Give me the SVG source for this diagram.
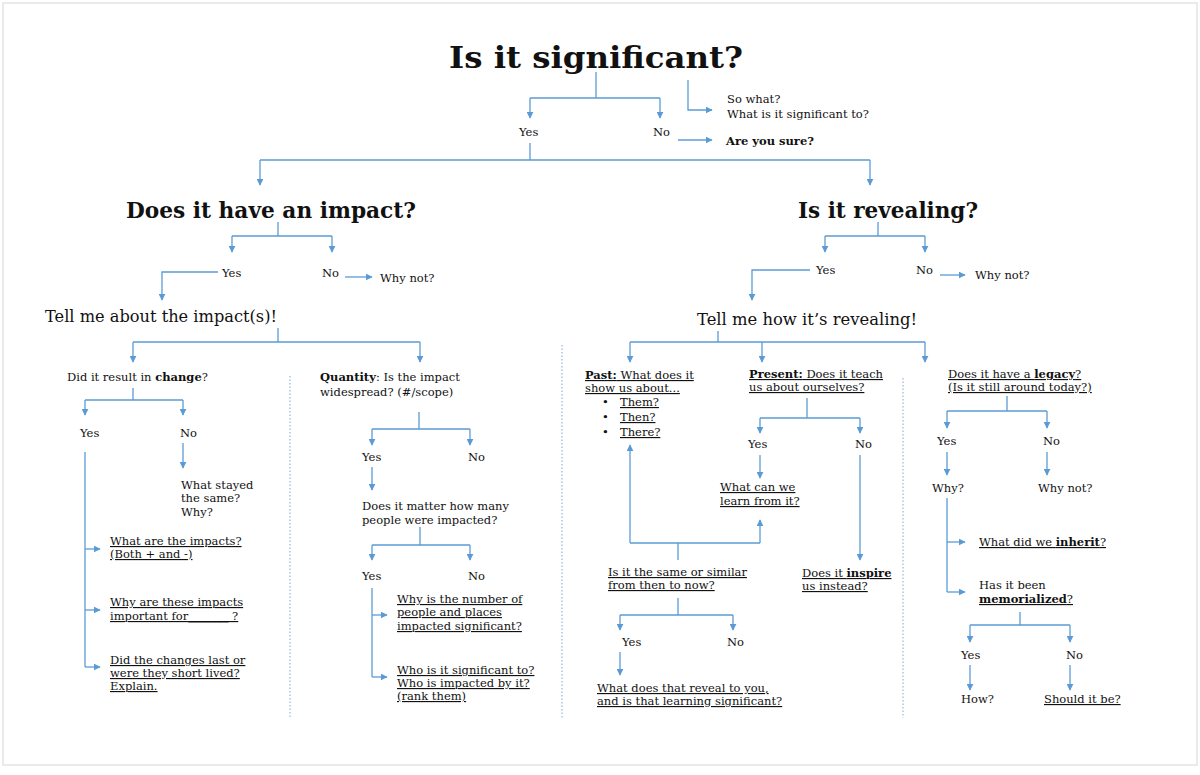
<svg xmlns="http://www.w3.org/2000/svg" width="1200" height="775" viewBox="0 0 1200 775">
<defs>
<marker id="ah" viewBox="0 0 10 10" refX="9" refY="5" markerWidth="7" markerHeight="7" markerUnits="userSpaceOnUse" orient="auto"><path d="M0,0 L10,5 L0,10 z" fill="#5b9bd5"/></marker>
<style>
text{font-family:"DejaVu Serif","Liberation Serif",serif;font-size:11.5px;fill:#111}
.t1{font-size:30px;font-weight:bold}
.t2{font-size:22px;font-weight:bold}
.t3{font-size:16px}
.b{font-weight:bold}
.u{text-decoration:underline}
.c path{fill:none;stroke:#5b9bd5;stroke-width:1.3}
.c .a{marker-end:url(#ah)}
.c .d{stroke:#9bbde0;stroke-dasharray:1.5 2}
</style>
</defs>
<rect x="0" y="0" width="1200" height="775" fill="#fff"/>
<rect x="3" y="3" width="1194" height="762" fill="none" stroke="#e4e4e4" stroke-width="1.5"/>
<g class="c" id="connectors">
<path d="M596,72 V98 M530,98 H660"/>
<path class="a" d="M530,98 V118"/><path class="a" d="M660,98 V118"/>
<path class="a" d="M688,80 V110 H712"/>
<path class="a" d="M678,140 H712"/>
<path d="M530,143 V160 M260,160 H870"/>
<path class="a" d="M260,160 V185"/><path class="a" d="M870,160 V185"/>
<path d="M278,222 V236 M232,236 H332"/>
<path class="a" d="M232,236 V252"/><path class="a" d="M332,236 V252"/>
<path class="a" d="M345,277 H372"/>
<path class="a" d="M218,272 H162 V300"/>
<path d="M278,328 V342 M133,342 H420"/>
<path class="a" d="M133,342 V362"/><path class="a" d="M420,342 V362"/>
<path d="M133,388 V400 M85,400 H183"/>
<path class="a" d="M85,400 V415"/><path class="a" d="M183,400 V415"/>
<path class="a" d="M183,443 V468"/>
<path d="M85,452 V667"/>
<path class="a" d="M85,549 H100"/><path class="a" d="M85,610 H100"/><path class="a" d="M85,667 H100"/>
<path class="d" d="M290,376 V718"/>
<path d="M419,412 V429 M372,429 H470"/>
<path class="a" d="M372,429 V445"/><path class="a" d="M470,429 V445"/>
<path class="a" d="M372,467 V490"/>
<path d="M420,527 V545 M372,545 H470"/>
<path class="a" d="M372,545 V560"/><path class="a" d="M470,545 V560"/>
<path d="M372,588 V677"/>
<path class="a" d="M372,615 H387"/><path class="a" d="M372,677 H387"/>
<path d="M878,222 V236 M825,236 H925"/>
<path class="a" d="M825,236 V252"/><path class="a" d="M925,236 V252"/>
<path class="a" d="M940,275 H965"/>
<path class="a" d="M810,270 H752 V300"/>
<path d="M718,331 V342 M630,342 H925"/>
<path class="a" d="M630,342 V362"/><path class="a" d="M762,342 V362"/><path class="a" d="M925,342 V362"/>
<path class="d" d="M562,345 V718"/>
<path class="d" d="M903,378 V718"/>
<path d="M807,398 V418 M760,418 H860"/>
<path class="a" d="M760,418 V433"/><path class="a" d="M860,418 V433"/>
<path class="a" d="M760,455 V478"/>
<path class="a" d="M860,455 V560"/>
<path d="M678,560 V543 M630,543 H760"/>
<path class="a" d="M630,543 V445"/><path class="a" d="M760,543 V520"/>
<path d="M678,598 V615 M620,615 H733"/>
<path class="a" d="M620,615 V630"/><path class="a" d="M733,615 V630"/>
<path class="a" d="M620,652 V675"/>
<path d="M1007,396 V411 M947,411 H1047"/>
<path class="a" d="M947,411 V428"/><path class="a" d="M1047,411 V428"/>
<path class="a" d="M947,452 V475"/><path class="a" d="M1047,452 V475"/>
<path d="M947,498 V592"/>
<path class="a" d="M947,542 H965"/><path class="a" d="M947,592 H965"/>
<path d="M1020,612 V625 M970,625 H1070"/>
<path class="a" d="M970,625 V642"/><path class="a" d="M1070,625 V642"/>
<path class="a" d="M970,665 V690"/><path class="a" d="M1070,665 V690"/>
</g>
<g id="n-title"><text class="t1" x="449" y="68" textLength="294" lengthAdjust="spacingAndGlyphs">Is it significant?</text></g>
<g id="n-yes0"><text x="519" y="136">Yes</text></g>
<g id="n-no0"><text x="653" y="136">No</text></g>
<g id="n-sowhat"><text x="727" y="103">So what?</text><text x="727" y="118">What is it significant to?</text></g>
<g id="n-sure"><text class="b" x="726" y="145">Are you sure?</text></g>
<g id="n-impact"><text class="t2" x="126" y="218" textLength="290" lengthAdjust="spacingAndGlyphs">Does it have an impact?</text></g>
<g id="n-reveal"><text class="t2" x="798" y="218" textLength="180" lengthAdjust="spacingAndGlyphs">Is it revealing?</text></g>
<g id="n-yes1"><text x="222" y="277">Yes</text></g>
<g id="n-no1"><text x="322" y="277">No</text></g>
<g id="n-whynot1"><text x="380" y="282">Why not?</text></g>
<g id="n-yes2"><text x="816" y="274">Yes</text></g>
<g id="n-no2"><text x="916" y="274">No</text></g>
<g id="n-whynot2"><text x="975" y="279">Why not?</text></g>
<g id="n-tellimpact"><text class="t3" x="45" y="322" textLength="232" lengthAdjust="spacingAndGlyphs">Tell me about the impact(s)!</text></g>
<g id="n-tellreveal"><text class="t3" x="697" y="325" textLength="220" lengthAdjust="spacingAndGlyphs">Tell me how it’s revealing!</text></g>
<g id="n-change"><text x="67" y="381">Did it result in <tspan class="b">change</tspan>?</text></g>
<g id="n-cyes"><text x="80" y="437">Yes</text></g>
<g id="n-cno"><text x="180" y="437">No</text></g>
<g id="n-stayed"><text x="181" y="489">What stayed</text><text x="181" y="502">the same?</text><text x="181" y="516">Why?</text></g>
<g id="n-what"><text class="u" x="110" y="545">What are the impacts?</text><text class="u" x="110" y="558">(Both + and -)</text></g>
<g id="n-whyimp"><text class="u" x="110" y="606">Why are these impacts</text><text class="u" x="110" y="620">important for_______ ?</text></g>
<g id="n-last"><text class="u" x="110" y="664">Did the changes last or</text><text class="u" x="110" y="677">were they short lived?</text><text class="u" x="110" y="690">Explain.</text></g>
<g id="n-quantity"><text x="320" y="381"><tspan class="b">Quantity</tspan>: Is the impact</text><text x="320" y="396">widespread? (#/scope)</text></g>
<g id="n-qyes"><text x="362" y="461">Yes</text></g>
<g id="n-qno"><text x="468" y="461">No</text></g>
<g id="n-matter"><text x="362" y="510">Does it matter how many</text><text x="362" y="524">people were impacted?</text></g>
<g id="n-myes"><text x="362" y="580">Yes</text></g>
<g id="n-mno"><text x="468" y="580">No</text></g>
<g id="n-number"><text class="u" x="397" y="603">Why is the number of</text><text class="u" x="397" y="616">people and places</text><text class="u" x="397" y="630">impacted significant?</text></g>
<g id="n-whosig"><text class="u" x="397" y="674">Who is it significant to?</text><text class="u" x="397" y="687">Who is impacted by it?</text><text class="u" x="397" y="700">(rank them)</text></g>
<g id="n-past"><text class="u" x="585" y="379"><tspan class="b">Past:</tspan> What does it</text><text class="u" x="585" y="392">show us about...</text>
<text x="602" y="406">•</text><text class="u" x="620" y="406">Them?</text>
<text x="602" y="421">•</text><text class="u" x="620" y="421">Then?</text>
<text x="602" y="436">•</text><text class="u" x="620" y="436">There?</text></g>
<g id="n-present"><text class="u" x="749" y="378"><tspan class="b">Present:</tspan> Does it teach</text><text class="u" x="749" y="391">us about ourselves?</text></g>
<g id="n-pyes"><text x="748" y="448">Yes</text></g>
<g id="n-pno"><text x="855" y="448">No</text></g>
<g id="n-learn"><text class="u" x="720" y="491">What can we</text><text class="u" x="720" y="505">learn from it?</text></g>
<g id="n-inspire"><text class="u" x="802" y="577">Does it <tspan class="b">inspire</tspan></text><text class="u" x="802" y="590">us instead?</text></g>
<g id="n-same"><text class="u" x="608" y="576">Is it the same or similar</text><text class="u" x="608" y="589">from then to now?</text></g>
<g id="n-syes"><text x="622" y="646">Yes</text></g>
<g id="n-sno"><text x="727" y="646">No</text></g>
<g id="n-what2"><text class="u" x="597" y="692">What does that reveal to you,</text><text class="u" x="597" y="705">and is that learning significant?</text></g>
<g id="n-legacy"><text class="u" x="948" y="378">Does it have a <tspan class="b">legacy</tspan>?</text><text class="u" x="948" y="391">(Is it still around today?)</text></g>
<g id="n-lyes"><text x="937" y="445">Yes</text></g>
<g id="n-lno"><text x="1043" y="445">No</text></g>
<g id="n-why"><text x="932" y="492">Why?</text></g>
<g id="n-whynot3"><text x="1038" y="492">Why not?</text></g>
<g id="n-inherit"><text class="u" x="979" y="546">What did we <tspan class="b">inherit</tspan>?</text></g>
<g id="n-memo"><text x="979" y="589">Has it been</text><text class="u b" x="979" y="603">memorialized<tspan style="font-weight:normal">?</tspan></text></g>
<g id="n-myes2"><text x="961" y="659">Yes</text></g>
<g id="n-mno2"><text x="1066" y="659">No</text></g>
<g id="n-how"><text x="961" y="703">How?</text></g>
<g id="n-should"><text class="u" x="1044" y="703">Should it be?</text></g>
</svg>
